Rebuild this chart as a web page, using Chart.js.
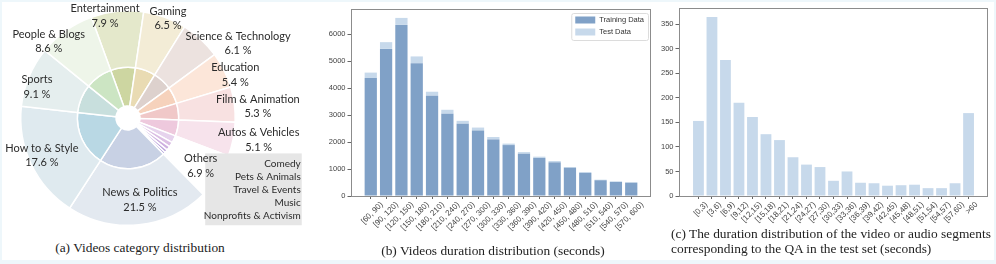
<!DOCTYPE html>
<html lang="en">
<head>
  <meta charset="UTF-8">
  <title>Video dataset statistics</title>
  <script src="https://cdn.jsdelivr.net/npm/chart.js"></script>
  <style>
    body { margin: 0; background: #fff; }
    #fig { position: relative; width: 996px; height: 264px; overflow: hidden; }
    #fig canvas { position: absolute; }
    .frame { position: absolute; left: 0; top: 0; width: 996px; height: 264px; box-sizing: border-box;
             border: 2px solid #eef7fb; border-bottom-width: 4px; }
    .cap { position: absolute; font-family: "Liberation Serif", serif; font-size: 13.4px; line-height: 15px;
           color: #222; white-space: nowrap; }
  </style>
</head>
<body>
<div id="fig">
  <div class="frame"></div>
  <canvas id="cat" width="310" height="240" style="left:0;top:0"></canvas>
  <canvas id="dur" width="345" height="236" style="left:310px;top:0"></canvas>
  <canvas id="seg" width="356" height="236" style="left:640px;top:0"></canvas>
  <div class="cap" style="left:40px;top:240px;width:200px;text-align:center">(a) Videos category distribution</div>
  <div class="cap" style="left:343px;top:243px;width:300px;text-align:center">(b) Videos duration distribution (seconds)</div>
  <div class="cap" style="left:671px;top:226px">(c) The duration distribution of the video or audio segments<br>corresponding to the QA in the test set (seconds)</div>
</div>

<script>
  // (a) categories, outer ring
  const catNames = ['Entertainment', 'Gaming', 'Science & Technology', 'Education', 'Film & Animation',
                    'Autos & Vehicles', 'Others', 'News & Politics', 'How to & Style', 'Sports', 'People & Blogs'];
  const catShares = [7.9, 6.5, 6.1, 5.4, 5.3, 5.1, 6.9, 21.5, 17.6, 9.1, 8.6];
  // small categories hidden in "Others" (inner ring only)
  const otherNames = ['Comedy', 'Pets & Animals', 'Travel & Events', 'Music', 'Nonprofits & Activism'];
  const otherShares = [2.3, 1.6, 1.3, 1.0, 0.7];

  // (b) video durations
  const durLabels = ['[60, 90)', '[90, 120)', '[120, 150)', '[150, 180)', '[180, 210)', '[210, 240)',
                     '[240, 270)', '[270, 300)', '[300, 330)', '[330, 360)', '[360, 390)', '[390, 420)',
                     '[420, 450)', '[450, 480)', '[480, 510)', '[510, 540)', '[540, 570)', '[570, 600)'];
  const trainCounts = [4380, 5460, 6350, 4930, 3720, 3050, 2680, 2430, 2100, 1890, 1570, 1410, 1250, 1050, 855, 585, 520, 495];
  const testCounts = [200, 250, 260, 250, 150, 150, 110, 110, 90, 55, 60, 50, 50, 25, 35, 20, 25, 15];
  const durTicks = [0, 1000, 2000, 3000, 4000, 5000, 6000];

  // (c) QA segment durations in the test set
  const segLabels = ['[0,3)', '[3,6)', '[6,9)', '[9,12)', '[12,15)', '[15,18)', '[18,21)', '[21,24)', '[24,27)',
                     '[27,30)', '[30,33)', '[33,36)', '[36,39)', '[39,42)', '[42,45)', '[45,48)', '[48,51)',
                     '[51,54)', '[54,57)', '[57,60)', '>60'];
  const segCounts = [153, 365, 277, 190, 161, 126, 114, 79, 64, 59, 31, 50, 27, 26, 21, 22, 23, 16, 16, 26, 169];
  const segTicks = [0, 50, 100, 150, 200, 250, 300, 350];

  const outerColors = ['#e4e8cb', '#f3ecd6', '#ece2df', '#fce6d9', '#f8e1e1', '#f7e3ec', '#ffffff',
                       '#e3e9f0', '#dfeaef', '#e5eeee', '#eef5e9'];
  const innerColors = ['#cdd6a1', '#e9dbb3', '#ddd1cd', '#f6d2bc', '#f0c8c8', '#eec9dd',
                       '#e6d3ed', '#dbbfe4', '#ceb0e0', '#bca3dc', '#a99ad6',
                       '#c8d1e4', '#b9d8e4', '#c8dfdd', '#cce5c3'];
  const darkBlue = '#80a1c7';
  const lightBlue = '#c7d9eb';
  const labelNudge = [[-13, -4], [6, -7], [43, -2], [19, 1], [32, 1], [34, 2], [-10, -6], [2, -16], [3, -5], [0, 7], [-22, 4]];

  Chart.defaults.font.family = '"Liberation Sans", Arial, sans-serif';
  Chart.defaults.color = '#444';

  const othersAt = catNames.indexOf('Others');
  const innerShares = [...catShares.slice(0, othersAt), ...otherShares, ...catShares.slice(othersAt + 1)];

  const pieLabels = {
    id: 'pieLabels',
    afterDatasetsDraw(chart) {
      const ctx = chart.ctx;
      const arcs = chart.getDatasetMeta(0).data;
      const cx = arcs[0].x, cy = arcs[0].y, R = arcs[0].outerRadius;
      ctx.save();
      // grey box listing the small categories
      const box = { l: cx + 0.72 * R, t: cy + 0.33 * R, r: cx + 1.62 * R, b: cy + R };
      ctx.fillStyle = '#e6e6e6';
      ctx.fillRect(box.l, box.t, box.r - box.l, box.b - box.t);
      ctx.fillStyle = '#2b2b2b';
      ctx.font = '10px Lato';
      ctx.textAlign = 'right';
      ctx.textBaseline = 'middle';
      otherNames.forEach((n, i) => ctx.fillText(n, box.r - 1, box.t + 10 + i * 13.2));

      ctx.font = '11px Lato';
      ctx.textAlign = 'center';
      arcs.forEach((arc, i) => {
        const mid = (arc.startAngle + arc.endAngle) / 2;
        const r = 0.92 * R;
        const x = cx + r * Math.cos(mid) + labelNudge[i][0];
        const y = cy + r * Math.sin(mid) + labelNudge[i][1];
        ctx.fillText(catNames[i], x, y - 7.3);
        ctx.fillText(catShares[i] + ' %', x, y + 7.3);
      });
      ctx.restore();
    }
  };

  new Chart(document.getElementById('cat'), {
    type: 'doughnut',
    data: {
      labels: catNames,
      datasets: [
        { data: catShares, backgroundColor: outerColors, weight: 57 },
        { data: innerShares, backgroundColor: innerColors, weight: 39 }
      ]
    },
    options: {
      responsive: false,
      animation: false,
      rotation: -20,
      cutout: 12,
      borderColor: '#fff',
      borderWidth: 1.5,
      hoverOffset: 0,
      layout: { padding: { left: 20, right: 74, top: 10, bottom: 14 } },
      plugins: { legend: { display: false }, tooltip: { enabled: false } }
    },
    plugins: [pieLabels]
  });

  // box around the plot area, like matplotlib spines
  const frame = {
    id: 'frame',
    afterDraw(chart) {
      const { ctx, chartArea: a } = chart;
      ctx.save();
      ctx.strokeStyle = '#8c8c8c';
      ctx.lineWidth = 1;
      ctx.strokeRect(Math.round(a.left) + 0.5, Math.round(a.top) + 0.5,
                     Math.round(a.right - a.left) - 1, Math.round(a.bottom - a.top));
      ctx.restore();
    }
  };

  const boxLegend = {
    id: 'boxLegend',
    afterDraw(chart) {
      const { ctx, chartArea: a } = chart;
      const sets = chart.data.datasets;
      ctx.save();
      ctx.font = '7.5px "Liberation Sans"';
      const tw = Math.max(...sets.map(d => ctx.measureText(d.label).width));
      const w = 4 + 20 + 4 + tw + 4, h = 27;
      const x0 = a.right - 3 - w, y0 = a.top + 4;
      ctx.fillStyle = '#fff';
      ctx.strokeStyle = '#dcdcdc';
      ctx.beginPath();
      ctx.roundRect(x0 + 0.5, y0 + 0.5, w, h, 2);
      ctx.fill();
      ctx.stroke();
      ctx.textBaseline = 'middle';
      sets.forEach((d, i) => {
        const yc = y0 + 7 + i * 12;
        ctx.fillStyle = d.backgroundColor;
        ctx.fillRect(x0 + 4, yc - 3.5, 20, 7);
        ctx.fillStyle = '#333';
        ctx.fillText(d.label, x0 + 28, yc);
      });
      ctx.restore();
    }
  };

  // matplotlib-like x margins: bar half width plus 5% of the data span
  function xPad(n) { return 0.4 + 0.05 * (n - 1 + 0.8); }

  function barScales(labels, yTicks, yMax, yWidth, xHeight, labelOffset) {
    const pad = xPad(labels.length);
    return {
      x: {
        type: 'linear', stacked: true, offset: false,
        min: -pad, max: labels.length - 1 + pad,
        afterBuildTicks: s => { s.ticks = labels.map((_, i) => ({ value: i })); },
        afterFit: s => { s.height = xHeight; },
        grid: { offset: false, drawOnChartArea: false, tickLength: 3, color: '#666' },
        border: { display: false },
        ticks: {
          autoSkip: false, maxRotation: 45, minRotation: 45, padding: 1, labelOffset: labelOffset,
          font: { size: 8 }, callback: v => labels[v]
        }
      },
      y: {
        stacked: true, min: 0, max: yMax,
        afterBuildTicks: s => { s.ticks = yTicks.map(v => ({ value: v })); },
        afterFit: s => { s.width = yWidth; },
        grid: { drawOnChartArea: false, tickLength: 3.5, color: '#666' },
        border: { display: false },
        ticks: { padding: 2, font: { size: 7.5 }, callback: v => String(v) }
      }
    };
  }

  const durTotals = trainCounts.map((v, i) => v + testCounts[i]);
  new Chart(document.getElementById('dur'), {
    type: 'bar',
    data: {
      datasets: [
        { label: 'Training Data', data: trainCounts.map((v, i) => ({ x: i, y: v })), backgroundColor: darkBlue },
        { label: 'Test Data', data: testCounts.map((v, i) => ({ x: i, y: v })), backgroundColor: lightBlue }
      ]
    },
    options: {
      responsive: false,
      animation: false,
      barPercentage: 0.8,
      categoryPercentage: 1,
      layout: { padding: { top: 9, right: 4 } },
      plugins: { legend: { display: false }, tooltip: { enabled: false } },
      scales: barScales(durLabels, durTicks, Math.max(...durTotals) * 1.05, 41, 40, 11)
    },
    plugins: [frame, boxLegend]
  });

  new Chart(document.getElementById('seg'), {
    type: 'bar',
    data: {
      datasets: [
        { label: 'Test Data', data: segCounts.map((v, i) => ({ x: i, y: v })), backgroundColor: lightBlue }
      ]
    },
    options: {
      responsive: false,
      animation: false,
      barPercentage: 0.8,
      categoryPercentage: 1,
      layout: { padding: { top: 8, right: 8 } },
      plugins: { legend: { display: false }, tooltip: { enabled: false } },
      scales: barScales(segLabels, segTicks, Math.max(...segCounts) * 1.05, 39, 40, 8)
    },
    plugins: [frame]
  });
</script>
</body>
</html>
